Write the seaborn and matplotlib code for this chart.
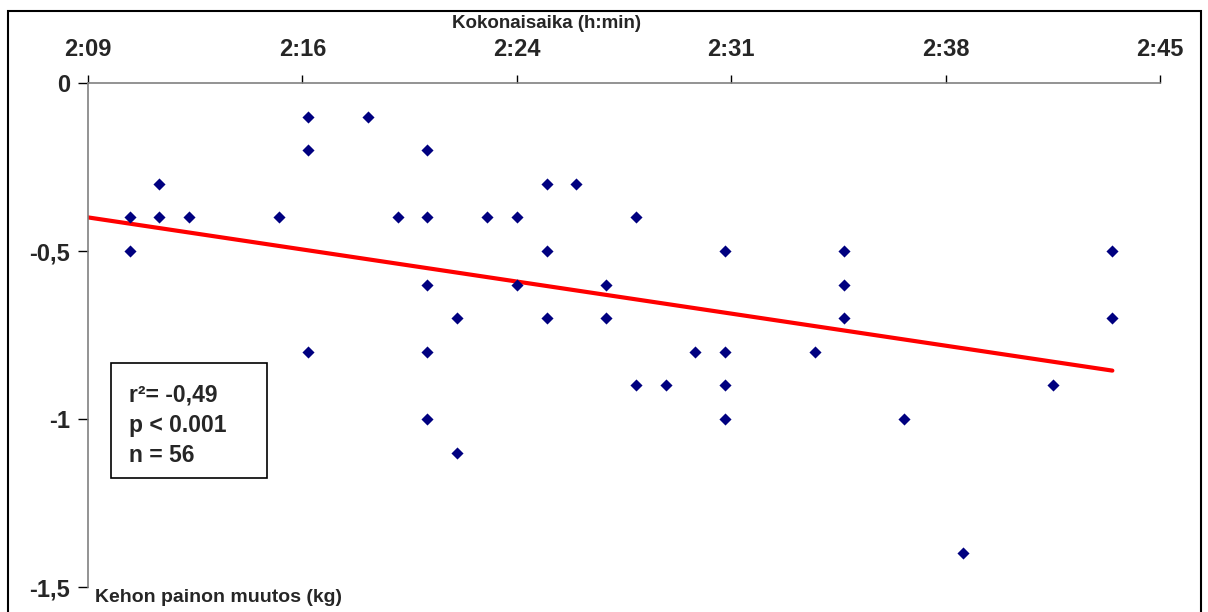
import matplotlib
matplotlib.use("Agg")
import matplotlib.pyplot as plt
import seaborn as sns
import pandas as pd
from matplotlib.patches import Rectangle

# ---- data (minutes of total time, body weight change in kg) ----
time_min = [131, 131, 132, 132, 133, 136, 137, 137, 137, 139, 140,
            141, 141, 141, 141, 141, 142, 142, 143, 144, 144,
            145, 145, 145, 146, 147, 147, 148, 148, 149, 150,
            151, 151, 151, 151, 154, 155, 155, 155, 157, 159, 162, 164, 164]
weight_change = [-0.4, -0.5, -0.3, -0.4, -0.4, -0.4, -0.1, -0.2, -0.8, -0.1, -0.4,
                 -0.2, -0.4, -0.6, -0.8, -1.0, -0.7, -1.1, -0.4, -0.4, -0.6,
                 -0.3, -0.5, -0.7, -0.3, -0.6, -0.7, -0.4, -0.9, -0.9, -0.8,
                 -0.5, -0.8, -0.9, -1.0, -0.8, -0.5, -0.6, -0.7, -1.0, -1.4, -0.9, -0.5, -0.7]
trend_x = [129.6, 164]
trend_y = [-0.40, -0.856]

x_ticks = [129.6, 136.8, 144.0, 151.2, 158.4, 165.6]
x_tick_labels = ["2:09", "2:16", "2:24", "2:31", "2:38", "2:45"]
y_ticks = [0, -0.5, -1, -1.5]
y_tick_labels = ["0", "-0,5", "-1", "-1,5"]
stats_lines = ["r²= -0,49", "p < 0.001", "n = 56"]

df = pd.DataFrame({"t": time_min, "w": weight_change})
tr = pd.DataFrame({"t": trend_x, "w": trend_y})

sns.set_theme(style="white")
plt.rcParams['font.family'] = ['Liberation Sans', 'DejaVu Sans']
plt.rcParams['font.weight'] = 'bold'

W, H = 1208, 612
fig = plt.figure(figsize=(W / 100, H / 100), dpi=100)
ax = fig.add_axes([88 / W, 1 - 587 / H, (1160 - 88) / W, (587 - 83) / H])

sns.lineplot(data=tr, x="t", y="w", ax=ax, color="#ff0000", linewidth=3.0,
             solid_capstyle="round", zorder=2)
sns.scatterplot(data=df, x="t", y="w", ax=ax, marker="D", s=38, color="#000080",
                linewidth=0, zorder=3)

ax.set_xlim(x_ticks[0], x_ticks[-1])
ax.set_ylim(-1.5, 0)
ax.xaxis.tick_top()
ax.set_xticks(x_ticks)
ax.set_xticklabels(x_tick_labels, fontsize=17, fontweight="bold")
ax.set_yticks(y_ticks)
ax.set_yticklabels(y_tick_labels, fontsize=17, fontweight="bold")
ax.tick_params(axis="x", direction="out", length=6, width=1, color="black", pad=10, top=True, bottom=False)
ax.tick_params(axis="y", direction="out", length=7, width=1, color="black", pad=6, left=True)
ax.set_xlabel("")
ax.set_ylabel("")
for side in ["right", "bottom"]:
    ax.spines[side].set_visible(False)
for side in ["left", "top"]:
    ax.spines[side].set_color("#808080")
    ax.spines[side].set_linewidth(1.2)

fig.text(546 / W, 1 - 24 / H, "Kokonaisaika (h:min)", ha="center", va="center",
         fontsize=13.5, fontweight="bold")
fig.text(95 / W, 1 - 598 / H, "Kehon painon muutos (kg)", ha="left", va="center",
         fontsize=14, fontweight="bold")

# statistics box
ax.add_patch(Rectangle((0.0215, 0.216), 0.1455, 0.228, transform=ax.transAxes,
                       facecolor="white", edgecolor="black", linewidth=1.2, zorder=4))
for yy, txt in zip([0.381, 0.321, 0.260], stats_lines):
    ax.text(0.038, yy, txt, transform=ax.transAxes, ha="left", va="center",
            fontsize=16.5, fontweight="bold", zorder=5)

# outer chart border
fig.patches.append(Rectangle((8 / W, -0.01), (1201 - 8) / W, 1 - 11 / H + 0.01,
                             transform=fig.transFigure, fill=False,
                             edgecolor="black", linewidth=1.5))

fig.savefig("out.png", dpi=100)
